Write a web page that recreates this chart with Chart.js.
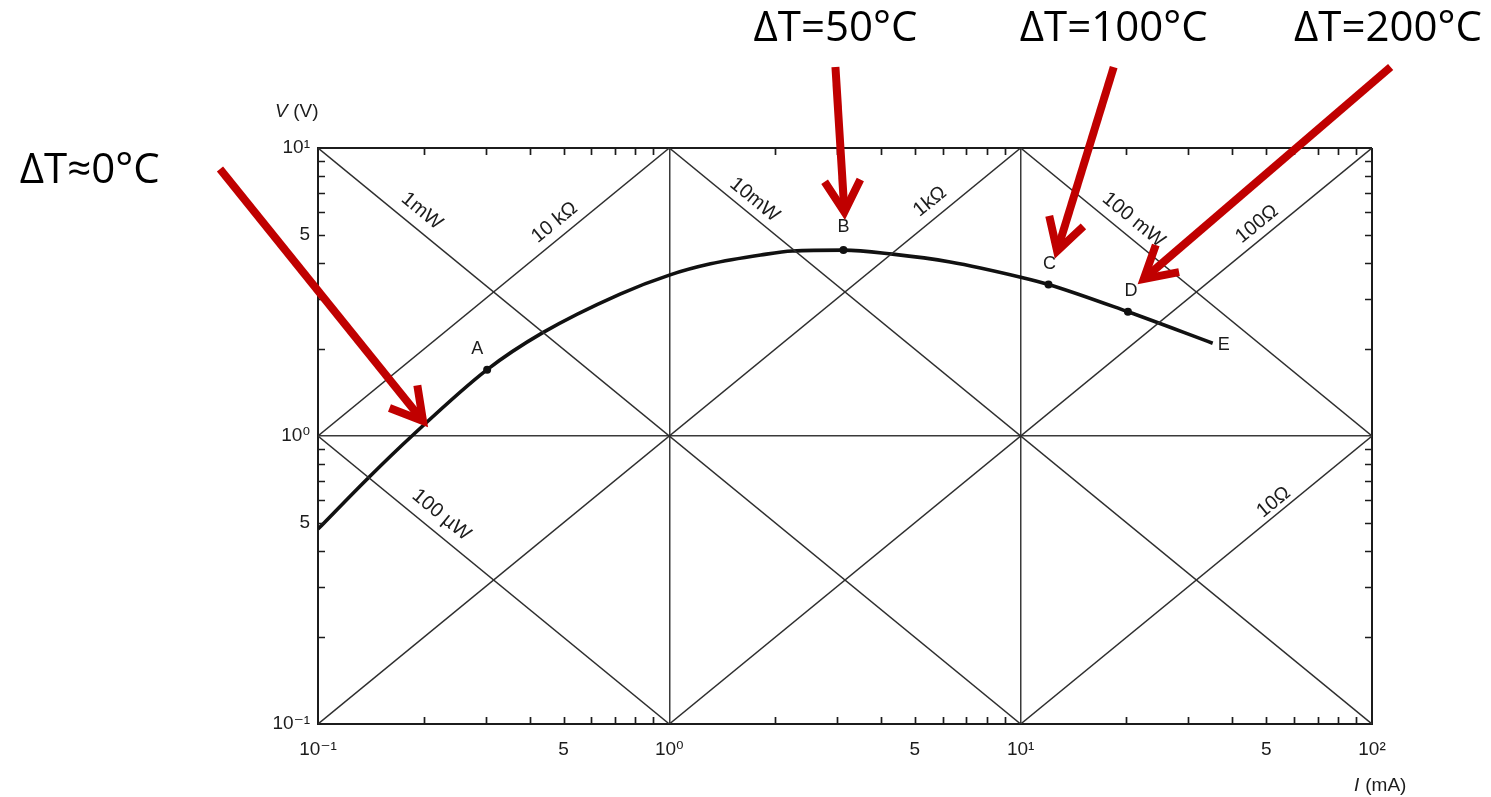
<!DOCTYPE html>
<html>
<head>
<meta charset="utf-8">
<title>V-I characteristic with power and resistance lines</title>
<script src="https://cdn.jsdelivr.net/npm/chart.js@4.4.1/dist/chart.umd.min.js"></script>
<style>
    html, body { margin: 0; padding: 0; background: #fff; }
    #wrap { width: 1491px; height: 797px; position: relative; }
</style>
</head>
<body>
<div id="wrap"><canvas id="chart"></canvas></div>
<script>
// Measured curve (I in mA, V in volts)
const curveI = [0.1, 0.139, 0.185, 0.303, 0.435, 0.724, 1.0, 1.31, 1.82, 2.24, 3.13, 4.32, 6.3, 10, 12.0, 20.2, 35.2];
const curveV = [0.475, 0.715, 1.0, 1.70, 2.28, 3.11, 3.62, 3.96, 4.25, 4.39, 4.42, 4.28, 4.02, 3.56, 3.36, 2.70, 2.10];

// Labelled points on the curve
const pointNames = ['A', 'B', 'C', 'D'];
const pointI = [0.303, 3.13, 12.0, 20.2];
const pointV = [1.70, 4.42, 3.36, 2.70];
const endName = 'E';

// Constant power lines (V * I = P)
const powerNames = ['100 µW', '1mW', '10mW', '100 mW'];
const powerFromI = [0.1, 0.1, 1, 10];
const powerFromV = [1, 10, 10, 10];
const powerToI = [1, 10, 100, 100];
const powerToV = [0.1, 0.1, 0.1, 1];

// Constant resistance lines (V / I = R)
const resistNames = ['10 kΩ', '1kΩ', '100Ω', '10Ω'];
const resistFromI = [0.1, 0.1, 1, 10];
const resistFromV = [1, 0.1, 0.1, 0.1];
const resistToI = [1, 10, 100, 100];
const resistToV = [10, 10, 10, 1];

// Tick labels
const xMajor = [0.1, 1, 10, 100];
const xMajorLabels = ['10⁻¹', '10⁰', '10¹', '10²'];
const yMajor = [0.1, 1, 10];
const yMajorLabels = ['10⁻¹', '10⁰', '10¹'];
const fiveMarks = [0.5, 5, 50];

// Temperature notes: text position, arrow tail and tip (I/V units)
const noteText = ['ΔT≈0°C', 'ΔT=50°C', 'ΔT=100°C', 'ΔT=200°C'];
const noteI = [0.0224, 2.97, 18.4, 111];
const noteV = [8.32, 25.9, 25.9, 25.9];
const arrowFromI = [0.0526, 2.97, 18.4, 113];
const arrowFromV = [8.46, 19.1, 19.1, 19.1];
const arrowToI = [0.199, 3.15, 12.7, 22.4];
const arrowToV = [1.127, 6.0, 4.39, 3.51];

// Where the line labels sit: I value along the line and gap above it
const lineLabelStyle = {
    '100 µW': { at: 0.209, gap: 17 },
    '1mW': { at: 0.184, gap: 17 },
    '10mW': { at: 1.65, gap: 14 },
    '100 mW': { at: 19.6, gap: 16 },
    '10 kΩ': { at: 0.502, gap: 15 },
    '1kΩ': { at: 5.9, gap: 16 },
    '100Ω': { at: 49.9, gap: 14 },
    '10Ω': { at: 55, gap: 11 }
};
const pointLabelOffset = { A: [-10, -21], B: [0, -23], C: [1, -20], D: [3, -21] };

const INK = '#1c1c1c';
const RED = '#c00000';
const chartFont = '"Liberation Sans", "DejaVu Sans", sans-serif';

// All 1..9 x 10^n tick values in a range
function logTicks(min, max) {
    const out = [];
    for (let e = Math.round(Math.log10(min)); e < Math.round(Math.log10(max)); e++) {
        for (let m = 1; m < 10; m++) out.push(+(m * Math.pow(10, e)).toPrecision(3));
    }
    out.push(max);
    return out;
}
const isMajor = v => [0.1, 1, 10, 100].some(m => Math.abs(v - m) < 1e-9);

function tickLabel(majors, labels) {
    return value => {
        const i = majors.findIndex(m => Math.abs(m - value) < 1e-9);
        if (i >= 0) return labels[i];
        if (fiveMarks.some(m => Math.abs(m - value) < 1e-9)) return '5';
        return '';
    };
}

function gridColor(edgeMin, edgeMax) {
    return ctx => {
        const v = ctx.tick && ctx.tick.value;
        if (!isMajor(v)) return 'rgba(0,0,0,0)';
        if (v === edgeMin || v === edgeMax) return INK;
        return '#3a3a3a';
    };
}

function segment(fromI, fromV, toI, toV, i) {
    return {
        data: [{ x: fromI[i], y: fromV[i] }, { x: toI[i], y: toV[i] }],
        borderColor: '#2e2e2e',
        borderWidth: 1.5,
        pointRadius: 0,
        tension: 0
    };
}

const datasets = [];
powerNames.forEach((n, i) => datasets.push(Object.assign(segment(powerFromI, powerFromV, powerToI, powerToV, i), { label: n })));
resistNames.forEach((n, i) => datasets.push(Object.assign(segment(resistFromI, resistFromV, resistToI, resistToV, i), { label: n })));
datasets.push({
    label: 'curve',
    data: curveI.map((x, i) => ({ x: x, y: curveV[i] })),
    borderColor: '#111',
    borderWidth: 3.6,
    pointRadius: 0,
    cubicInterpolationMode: 'monotone'
});
datasets.push({
    label: 'points',
    data: pointI.map((x, i) => ({ x: x, y: pointV[i] })),
    showLine: false,
    pointRadius: 4,
    pointBackgroundColor: '#111',
    pointBorderWidth: 0
});

// Extra drawing: inner tick marks, line labels, point labels, titles, red notes
const decorPlugin = {
    id: 'decor',
    afterDatasetsDraw(chart) {
        const { ctx, chartArea: a, scales: { x, y } } = chart;
        ctx.save();

        // inward minor ticks on all four sides
        ctx.strokeStyle = INK;
        ctx.lineWidth = 1.7;
        const len = 7;
        x.ticks.forEach(t => {
            if (isMajor(t.value)) return;
            const px = Math.round(x.getPixelForValue(t.value)) + 0.5;
            ctx.beginPath();
            ctx.moveTo(px, a.bottom); ctx.lineTo(px, a.bottom - len);
            ctx.moveTo(px, a.top); ctx.lineTo(px, a.top + len);
            ctx.stroke();
        });
        y.ticks.forEach(t => {
            if (isMajor(t.value)) return;
            const py = Math.round(y.getPixelForValue(t.value)) + 0.5;
            ctx.beginPath();
            ctx.moveTo(a.left, py); ctx.lineTo(a.left + len, py);
            ctx.moveTo(a.right, py); ctx.lineTo(a.right - len, py);
            ctx.stroke();
        });

        // labels riding on the diagonal lines
        ctx.fillStyle = INK;
        ctx.font = '20px ' + chartFont;
        ctx.textAlign = 'center';
        ctx.textBaseline = 'middle';
        chart.data.datasets.forEach(ds => {
            const st = lineLabelStyle[ds.label];
            if (!st) return;
            const p0x = x.getPixelForValue(ds.data[0].x), p0y = y.getPixelForValue(ds.data[0].y);
            const p1x = x.getPixelForValue(ds.data[1].x), p1y = y.getPixelForValue(ds.data[1].y);
            const ang = Math.atan2(p1y - p0y, p1x - p0x);
            const lx = x.getPixelForValue(st.at);
            const ly = p0y + (lx - p0x) / (p1x - p0x) * (p1y - p0y);
            const cx = lx + Math.sin(ang) * st.gap;
            const cy = ly - Math.cos(ang) * st.gap;
            ctx.save();
            ctx.translate(cx, cy);
            ctx.rotate(ang);
            ctx.fillText(ds.label, 0, 0);
            ctx.restore();
        });

        // point letters
        ctx.font = '18px ' + chartFont;
        pointNames.forEach((n, i) => {
            const off = pointLabelOffset[n];
            ctx.fillText(n, x.getPixelForValue(pointI[i]) + off[0], y.getPixelForValue(pointV[i]) + off[1]);
        });
        const last = curveI.length - 1;
        ctx.textAlign = 'left';
        ctx.fillText(endName, x.getPixelForValue(curveI[last]) + 5, y.getPixelForValue(curveV[last]) + 2);

        // axis titles
        ctx.textAlign = 'left';
        ctx.font = 'italic 19px ' + chartFont;
        ctx.fillText('V', a.left - 43, a.top - 36);
        ctx.font = '19px ' + chartFont;
        ctx.fillText(' (V)', a.left - 30, a.top - 36);
        ctx.font = 'italic 19px ' + chartFont;
        ctx.fillText('I', a.right - 18, a.bottom + 62);
        ctx.font = '19px ' + chartFont;
        ctx.fillText(' (mA)', a.right - 12, a.bottom + 62);
        ctx.restore();
    },
    afterDraw(chart) {
        const { ctx, scales: { x, y } } = chart;
        ctx.save();
        ctx.strokeStyle = RED;
        ctx.lineWidth = 8;
        ctx.lineCap = 'butt';
        ctx.lineJoin = 'miter';
        arrowFromI.forEach((_, i) => {
            const sx = x.getPixelForValue(arrowFromI[i]), sy = y.getPixelForValue(arrowFromV[i]);
            const tx = x.getPixelForValue(arrowToI[i]), ty = y.getPixelForValue(arrowToV[i]);
            const ang = Math.atan2(ty - sy, tx - sx);
            const head = 36, spread = 0.52;
            ctx.beginPath();
            ctx.moveTo(sx, sy);
            ctx.lineTo(tx - Math.cos(ang) * 4, ty - Math.sin(ang) * 4);
            ctx.stroke();
            ctx.beginPath();
            ctx.moveTo(tx - head * Math.cos(ang - spread), ty - head * Math.sin(ang - spread));
            ctx.lineTo(tx, ty);
            ctx.lineTo(tx - head * Math.cos(ang + spread), ty - head * Math.sin(ang + spread));
            ctx.stroke();
        });
        ctx.fillStyle = '#000';
        ctx.font = '42px "Open Sans", "DejaVu Sans", sans-serif';
        ctx.textAlign = 'center';
        ctx.textBaseline = 'middle';
        noteText.forEach((t, i) => {
            ctx.fillText(t, x.getPixelForValue(noteI[i]), y.getPixelForValue(noteV[i]));
        });
        ctx.restore();
    }
};

new Chart(document.getElementById('chart'), {
    type: 'line',
    data: { datasets: datasets },
    options: {
        responsive: true,
        maintainAspectRatio: false,
        animation: false,
        layout: { padding: { top: 148, right: 119, left: 0, bottom: 0 } },
        plugins: { legend: { display: false }, tooltip: { enabled: false } },
        scales: {
            x: {
                type: 'logarithmic',
                min: 0.1,
                max: 100,
                afterFit: s => { s.height = 73; },
                afterBuildTicks: s => { s.ticks = logTicks(0.1, 100).map(v => ({ value: v })); },
                ticks: {
                    autoSkip: false,
                    maxRotation: 0,
                    padding: 14,
                    color: INK,
                    font: { family: chartFont, size: 19 },
                    callback: tickLabel(xMajor, xMajorLabels)
                },
                grid: {
                    drawTicks: false,
                    color: gridColor(0.1, 100),
                    lineWidth: ctx => (ctx.tick && (ctx.tick.value === 0.1 || ctx.tick.value === 100)) ? 2 : 1.5
                },
                border: { display: true, color: INK, width: 2 }
            },
            y: {
                type: 'logarithmic',
                min: 0.1,
                max: 10,
                afterFit: s => { s.width = 318; },
                afterBuildTicks: s => { s.ticks = logTicks(0.1, 10).map(v => ({ value: v })); },
                ticks: {
                    autoSkip: false,
                    padding: 8,
                    color: INK,
                    font: { family: chartFont, size: 19 },
                    callback: tickLabel(yMajor, yMajorLabels)
                },
                grid: {
                    drawTicks: false,
                    color: gridColor(0.1, 10),
                    lineWidth: ctx => (ctx.tick && (ctx.tick.value === 0.1 || ctx.tick.value === 10)) ? 2 : 1.5
                },
                border: { display: true, color: INK, width: 2 }
            }
        }
    },
    plugins: [decorPlugin]
});
</script>
</body>
</html>
